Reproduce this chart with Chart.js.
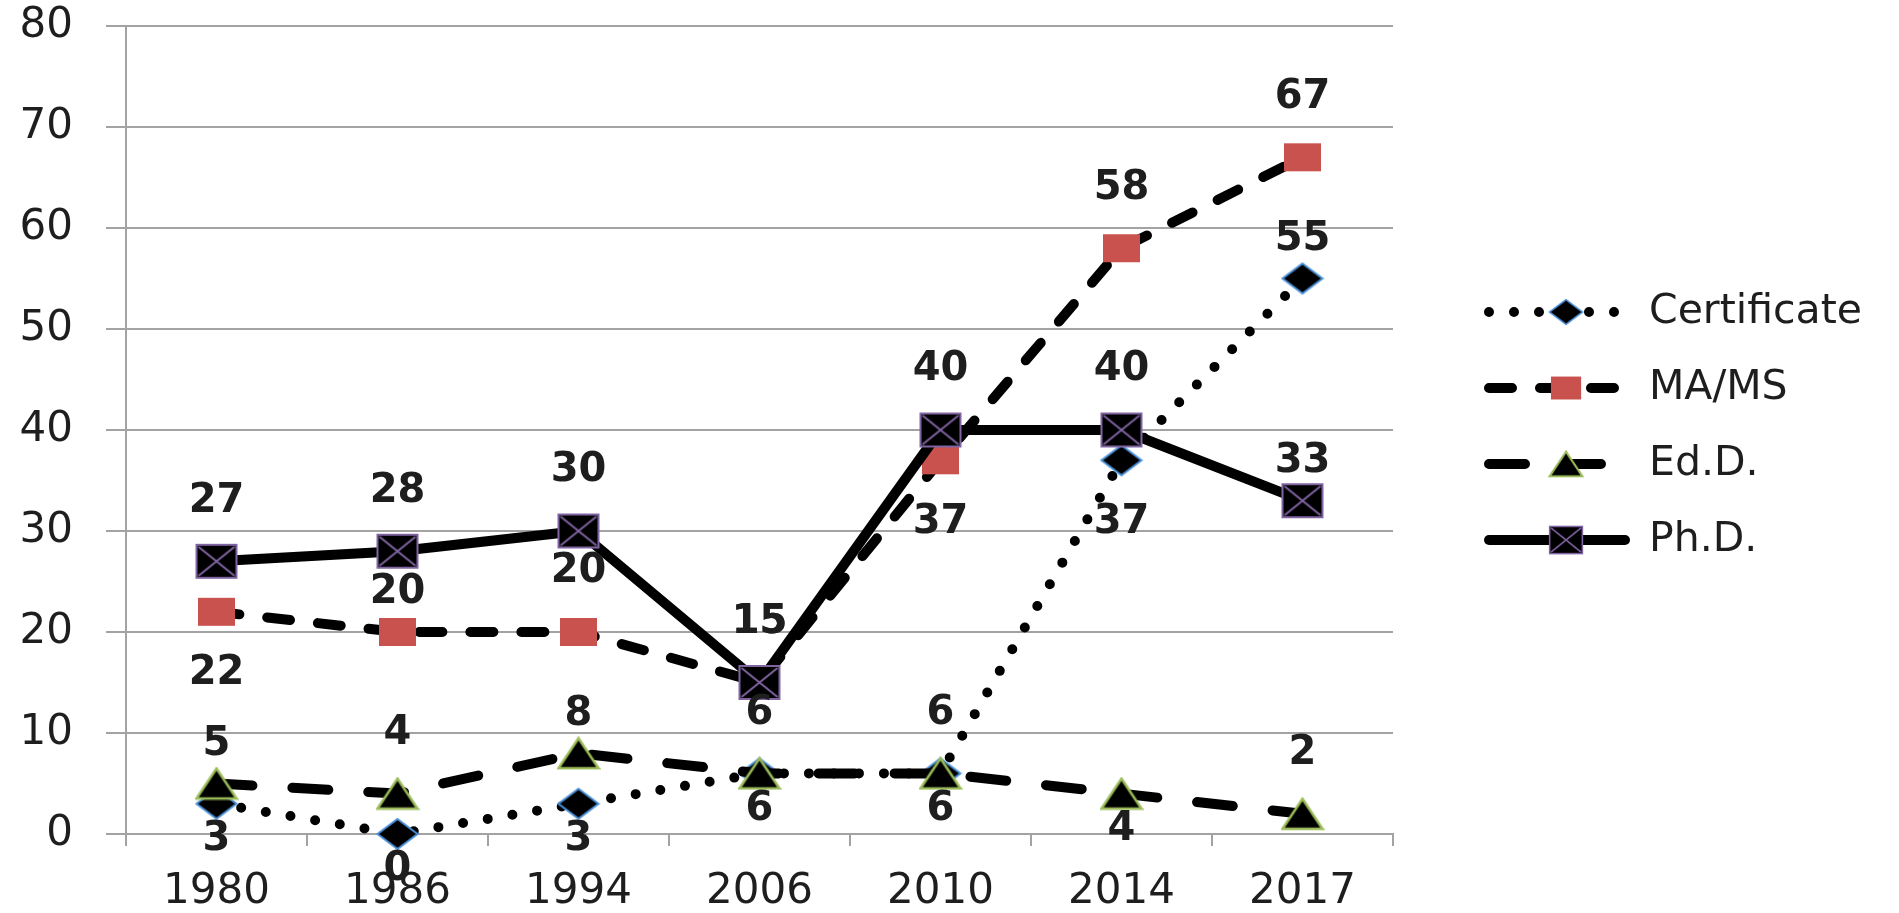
<!doctype html>
<html lang="en">
<head>
<meta charset="utf-8">
<style>
  html, body { margin: 0; padding: 0; background: #fff; }
  #wrap { width: 1899px; height: 913px; position: relative; }
</style>
</head>
<body>
<div id="wrap"><canvas id="chart"></canvas></div>
<script src="https://cdn.jsdelivr.net/npm/chart.js@4.4.0/dist/chart.umd.min.js"></script>
<script>
// categories and series
const years = ['1980', '1986', '1994', '2006', '2010', '2014', '2017'];
const certificate = [3, 0, 3, 6, 6, 37, 55];
const maMs = [22, 20, 20, 15, 37, 58, 67];
const edD = [5, 4, 8, 6, 6, 4, 2];
const phD = [27, 28, 30, 15, 40, 40, 33];
const yMin = 0, yMax = 80, yStep = 10;

// where each value label sits, relative to its marker
const certLabels = ['below', 'below', 'below', 'below', 'below', 'farBelow', 'nearAbove'];
const maMsLabels = ['farBelow', 'nearAbove', 'above', 'above', 'farBelow', 'above', 'above'];
const edDLabels = ['nearAbove', 'above', 'nearAbove', 'above', 'above', 'below', 'above'];
const phDLabels = ['above', 'above', 'above', 'above', 'above', 'above', 'nearAbove'];
const labelGap = { above: -60, nearAbove: -39, below: 36, farBelow: 62 };

const GRID = '#a3a3a3';
const TEXT = '#1e1e1e';
Chart.defaults.font.family = "'DejaVu Sans'";

//build the marker images (Excel style, a bit wider than tall)
function marker(kind) {
  const w = kind === 'square' ? 37 : 40;
  const h = kind === 'square' ? 28 : (kind === 'cross' ? 33 : 30);
  const c = document.createElement('canvas');
  c.width = w + 4; c.height = h + 4;
  const g = c.getContext('2d');
  const l = 2, t = 2, r = w + 2, b = h + 2, cx = c.width / 2, cy = c.height / 2;
  g.beginPath();
  if (kind === 'diamond') {
    g.moveTo(cx, t); g.lineTo(r, cy); g.lineTo(cx, b); g.lineTo(l, cy); g.closePath();
    g.fillStyle = '#000'; g.fill();
    g.strokeStyle = '#4a90d9'; g.lineWidth = 2; g.stroke();
  } else if (kind === 'square') {
    g.rect(l, t, w, h);
    g.fillStyle = '#c9514e'; g.fill();
  } else if (kind === 'triangle') {
    g.moveTo(cx, t); g.lineTo(r, b); g.lineTo(l, b); g.closePath();
    g.fillStyle = '#000'; g.fill();
    g.strokeStyle = '#9bbb59'; g.lineWidth = 2.5; g.stroke();
  } else {
    g.rect(l, t, w, h);
    g.fillStyle = '#000'; g.fill();
    g.strokeStyle = '#8064a2'; g.lineWidth = 2; g.stroke();
    g.beginPath();
    g.moveTo(l + 2, t + 2); g.lineTo(r - 2, b - 2);
    g.moveTo(r - 2, t + 2); g.lineTo(l + 2, b - 2);
    g.stroke();
  }
  return c;
}

//value labels next to the markers
const valueLabels = {
  id: 'valueLabels',
  afterDatasetsDraw(chart) {
    const ctx = chart.ctx;
    ctx.save();
    ctx.font = "bold 40px 'DejaVu Sans'";
    ctx.fillStyle = TEXT;
    ctx.textAlign = 'center';
    ctx.textBaseline = 'middle';
    chart.data.datasets.forEach((ds, i) => {
      chart.getDatasetMeta(i).data.forEach((pt, j) => {
        ctx.fillText(String(ds.data[j]), pt.x, pt.y + labelGap[ds.labelPos[j]]);
      });
    });
    ctx.restore();
  }
};

//legend on the right: line pattern + marker + name
const sideLegend = {
  id: 'sideLegend',
  afterDraw(chart) {
    const ctx = chart.ctx, area = chart.chartArea;
    const mid = (area.top + area.bottom) / 2 - 4;
    chart.data.datasets.forEach((ds, i) => {
      const y = mid + (i - 1.5) * 76;
      ctx.save();
      ctx.strokeStyle = ds.borderColor;
      ctx.lineWidth = ds.borderWidth;
      ctx.lineCap = ds.borderCapStyle;
      ctx.setLineDash(ds.borderDash);
      ctx.beginPath();
      ctx.moveTo(area.right + 96, y);
      ctx.lineTo(area.right + 232, y);
      ctx.stroke();
      const img = ds.pointStyle, s = 0.82;
      ctx.drawImage(img, area.right + 173 - img.width * s / 2, y - img.height * s / 2, img.width * s, img.height * s);
      ctx.fillStyle = TEXT;
      ctx.font = "41px 'DejaVu Sans'";
      ctx.textAlign = 'left';
      ctx.textBaseline = 'middle';
      ctx.fillText(ds.label, area.right + 256, y);
      ctx.restore();
    });
  }
};

function series(label, data, labelPos, kind, dash, order) {
  return {
    label: label,
    data: data,
    labelPos: labelPos,
    order: order,
    borderColor: '#000',
    borderWidth: 10,
    borderDash: dash,
    borderCapStyle: 'round',
    borderJoinStyle: 'round',
    tension: 0,
    fill: false,
    clip: false,
    pointStyle: marker(kind),
    pointRadius: 15,
    pointHoverRadius: 15
  };
}

new Chart(document.getElementById('chart'), {
  type: 'line',
  data: {
    labels: years,
    datasets: [
      series('Certificate', certificate, certLabels, 'diamond', [0, 25], 3),
      series('MA/MS', maMs, maMsLabels, 'square', [23, 28], 2),
      series('Ed.D.', edD, edDLabels, 'triangle', [36, 40], 1),
      series('Ph.D.', phD, phDLabels, 'cross', [], 0)
    ]
  },
  options: {
    responsive: true,
    maintainAspectRatio: false,
    animation: false,
    layout: { padding: { left: 0, right: 506, top: 0, bottom: 0 } },
    plugins: { legend: { display: false }, tooltip: { enabled: false } },
    scales: {
      x: {
        offset: true,
        afterFit: (scale) => { scale.height = 79; },
        grid: { offset: true, drawOnChartArea: false, color: GRID, lineWidth: 2, tickLength: 12 },
        border: { color: GRID, width: 2 },
        ticks: { color: TEXT, font: { size: 42 }, padding: 21, maxRotation: 0 }
      },
      y: {
        min: yMin,
        max: yMax,
        afterFit: (scale) => { scale.width = 126; scale.paddingTop = 26; scale.paddingBottom = 0; },
        grid: { color: GRID, lineWidth: 2, tickLength: 20 },
        border: { color: GRID, width: 2 },
        ticks: { stepSize: yStep, color: TEXT, font: { size: 42 }, padding: 33 }
      }
    }
  },
  plugins: [valueLabels, sideLegend]
});
</script>
</body>
</html>
